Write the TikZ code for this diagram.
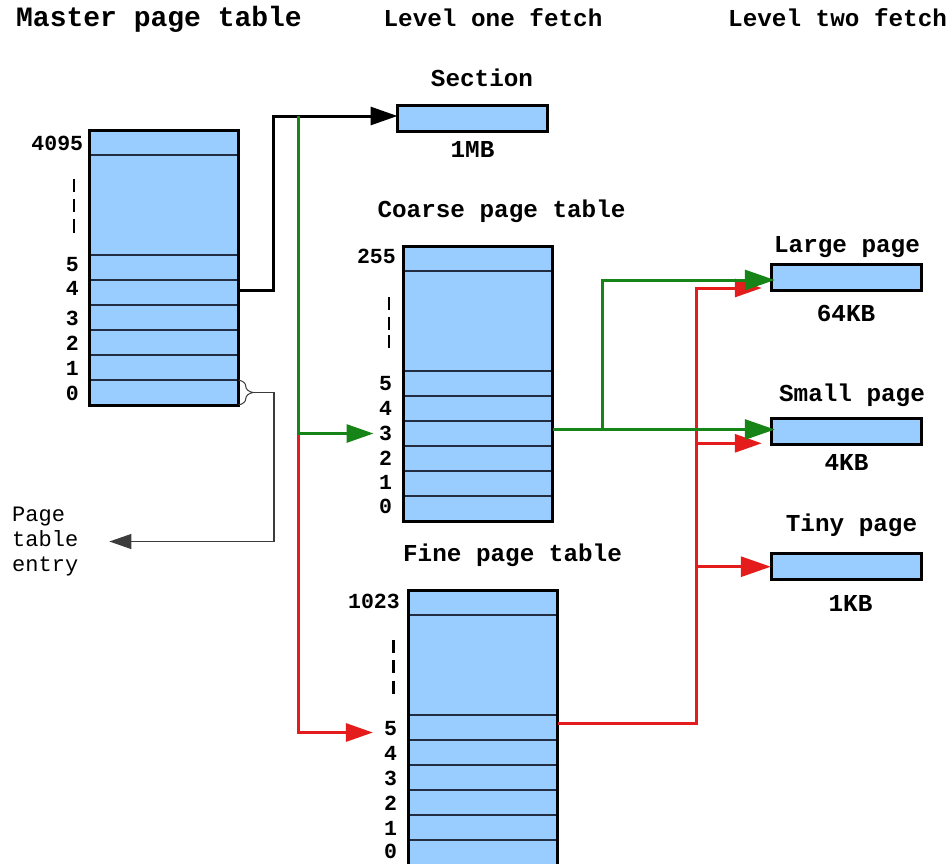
\documentclass[tikz,border=0pt]{standalone}
\usepackage{fontspec}
\setmonofont{Liberation Mono}
\usetikzlibrary{arrows.meta,decorations.pathreplacing}

\definecolor{cellblue}{RGB}{153,204,255}
\definecolor{rowline}{RGB}{35,45,65}
\definecolor{fetchgreen}{RGB}{22,132,22}
\definecolor{fetchred}{RGB}{228,28,28}
\definecolor{notegray}{RGB}{60,60,60}

\tikzset{
  cell/.style={draw=rowline, line width=1.5pt, fill=cellblue,
    minimum width=149pt, minimum height=25pt, inner sep=0pt, outer sep=0pt},
  gapcell/.style={cell, minimum height=100pt},
  frame/.style={draw=black, line width=3pt},
  pagebox/.style={draw=black, line width=3pt, fill=cellblue,
    minimum width=150pt, minimum height=26pt, inner sep=0pt, outer sep=0pt},
  heading/.style={font=\fontsize{24.3}{28}\selectfont\ttfamily\bfseries,
    inner sep=0pt, anchor=base},
  idx/.style={font=\fontsize{21.5}{25}\selectfont\ttfamily\bfseries,
    inner sep=0pt, anchor=base east},
  vdots/.style={line width=2.6pt, draw=black},
  link/.style={line width=3pt, draw=black},
  glink/.style={line width=3pt, draw=fetchgreen},
  rlink/.style={line width=3pt, draw=fetchred},
  tipA/.style={-{Triangle[length=27pt,width=18pt]}},
  tipB/.style={-{Triangle[length=30pt,width=20pt]}},
  note/.style={font=\fontsize{22}{25}\selectfont\ttfamily, align=left,
    inner sep=0pt, anchor=west},
}

\begin{document}
\begin{tikzpicture}[x=1pt, y=-1pt]
\useasboundingbox (0,0) rectangle (952,863);
\clip (0,0) rectangle (952,863);

% ---------- column headings ----------
\node[heading, font=\fontsize{28}{32}\selectfont\ttfamily\bfseries] (hmaster) at (159,26.7) {Master page table};
\node[heading] (hone) at (493,26.7) {Level one fetch};
\node[heading, anchor=base west] (htwo) at (728,26.7) {Level two fetch};

% ---------- master page table ----------
\node[cell]    (m4095) at (164,142.5) {};
\node[gapcell] (mgap)  at (164,205)   {};
\node[cell]    (m5)    at (164,267.5) {};
\node[cell]    (m4)    at (164,292.5) {};
\node[cell]    (m3)    at (164,317.5) {};
\node[cell]    (m2)    at (164,342.5) {};
\node[cell]    (m1)    at (164,367.5) {};
\node[cell]    (m0)    at (164,392.5) {};
\draw[frame] (m4095.north west) rectangle (m0.south east);

\node[idx] (lm4095) at (83.3,150) {4095};
\node[idx] (lm5) at (79,271.7) {5};
\node[idx] (lm4) at (79,295.7) {4};
\node[idx] (lm3) at (79,325.7) {3};
\node[idx] (lm2) at (79,350.7) {2};
\node[idx] (lm1) at (79,375)   {1};
\node[idx] (lm0) at (79,400)   {0};
\draw[vdots] (74,179) -- (74,192) (74,198.5) -- (74,211.5) (74,218.5) -- (74,233);

% ---------- section ----------
\node[heading] (tsection) at (482,86) {Section};
\node[pagebox] (section) at (472.5,118) {};
\node[heading] (ssection) at (472.5,157.3) {1MB};

% ---------- coarse page table ----------
\node[heading] (tcoarse) at (501.5,217.3) {Coarse page table};
\node[cell]    (c255) at (478,258.5) {};
\node[gapcell] (cgap) at (478,321)   {};
\node[cell]    (c5)   at (478,383.5) {};
\node[cell]    (c4)   at (478,408.5) {};
\node[cell]    (c3)   at (478,433.5) {};
\node[cell]    (c2)   at (478,458.5) {};
\node[cell]    (c1)   at (478,483.5) {};
\node[cell]    (c0)   at (478,508.5) {};
\draw[frame] (c255.north west) rectangle (c0.south east);

\node[idx] (lc255) at (396,263.3) {255};
\node[idx] (lc5) at (392.3,390)   {5};
\node[idx] (lc4) at (392.3,415)   {4};
\node[idx] (lc3) at (392.3,440)   {3};
\node[idx] (lc2) at (392.3,465)   {2};
\node[idx] (lc1) at (392.3,489.3) {1};
\node[idx] (lc0) at (392.3,513.3) {0};
\draw[vdots] (389,297) -- (389,310) (389,317) -- (389,330) (389,335) -- (389,348);

% ---------- fine page table ----------
\node[heading] (tfine) at (512.5,561.7) {Fine page table};
\node[cell]    (f1023) at (483.4,602.5) {};
\node[gapcell] (fgap)  at (483.4,665)   {};
\node[cell]    (f5)    at (483.4,727.5) {};
\node[cell]    (f4)    at (483.4,752.5) {};
\node[cell]    (f3)    at (483.4,777.5) {};
\node[cell]    (f2)    at (483.4,802.5) {};
\node[cell]    (f1)    at (483.4,827.5) {};
\node[cell]    (f0)    at (483.4,852.5) {};
\draw[frame] (f1023.north west) rectangle (f0.south east);

\node[idx] (lf1023) at (400,608.3) {1023};
\node[idx] (lf5) at (397.3,735)   {5};
\node[idx] (lf4) at (397.3,760)   {4};
\node[idx] (lf3) at (397.3,785)   {3};
\node[idx] (lf2) at (397.3,810)   {2};
\node[idx] (lf1) at (397.3,835)   {1};
\node[idx] (lf0) at (397.3,858.3) {0};
\draw[vdots] (393.3,640) -- (393.3,653) (393.3,660) -- (393.3,673) (393.3,680.5) -- (393.3,694);

% ---------- level two pages ----------
\node[heading] (tlarge) at (847,252.7) {Large page};
\node[pagebox] (large) at (846.8,277.5) {};
\node[heading] (slarge) at (846,321.7) {64KB};

\node[heading] (tsmall) at (852,401.7) {Small page};
\node[pagebox] (small) at (846.8,431.7) {};
\node[heading] (ssmall) at (846.5,470.7) {4KB};

\node[heading] (ttiny) at (851.5,531.7) {Tiny page};
\node[pagebox] (tiny) at (846.8,566.7) {};
\node[heading] (stiny) at (850.5,611.7) {1KB};

% ---------- page table entry note ----------
\node[note] (pte) at (12,541.5) {Page\\table\\entry};
\draw[notegray, line width=1pt, decorate,
      decoration={brace, amplitude=14.5pt, aspect=0.5}]
  (m0.north east) -- (m0.south east);
\coordinate (bracetip) at ([xshift=14.5pt]m0.east);
\draw[notegray, line width=1.3pt, -{Triangle[length=22pt,width=15pt]},
      shorten >=31pt]
  (bracetip) -- ++(21,0) |- (pte.east);

% ---------- level one connectors ----------
\coordinate (jg) at (298.3,116);
\coordinate (jr) at (298.3,433.5);
\draw[link, tipA] ([yshift=2.5pt]m4.east) -- ++(35,0) |- ([yshift=2pt]section.west);
\draw[rlink, tipA, shorten >=36pt] (jr) |- ([yshift=-5pt]f5.west);
\draw[glink, tipA, shorten >=30pt] (jg) |- (c3.west);

% ---------- level two connectors ----------
\coordinate (fout) at ([yshift=4.5pt]f5.east);
\coordinate (rbus) at (696.7,288);
\coordinate (rsmall) at ([yshift=-11.6pt]small.west);
\draw[rlink, tipA, shorten >=10pt] (fout) -| (rbus) -- (rbus -| large.west);
\draw[rlink, tipA, shorten >=10pt] (rbus |- rsmall) -- (rsmall);
\draw[rlink, tipB, shorten >=1pt] (rbus |- tiny.west) -- (tiny.west);

\coordinate (cout) at ([yshift=4pt]c3.east);
\coordinate (gbus) at (602.3,0);
\coordinate (glarge) at ([yshift=-2.5pt]large.west);
\draw[glink, tipB, shorten >=-3pt] (cout) -- (cout -| small.west);
\draw[glink, tipB, shorten >=-3pt] (cout -| gbus) |- (glarge);
\end{tikzpicture}
\end{document}
